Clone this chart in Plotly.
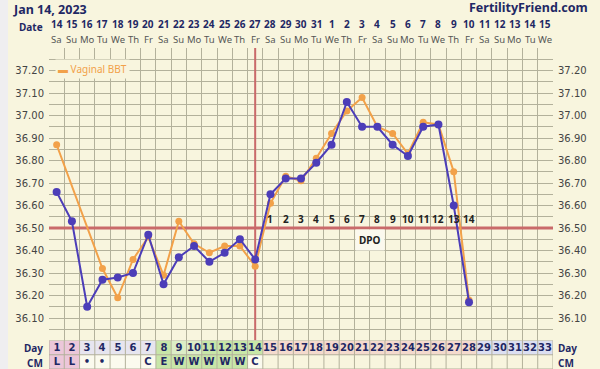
import plotly.graph_objects as go

# ---------------- data ----------------
days = list(range(1, 34))
dates = list(range(14, 32)) + list(range(1, 16))
weekdays = (["Sa", "Su", "Mo", "Tu", "We", "Th", "Fr"] * 5)[:33]

bbt_days = list(range(1, 29))
blue_bbt = [36.66, 36.53, 36.15, 36.27, 36.28, 36.30, 36.47, 36.25, 36.37, 36.42,
            36.35, 36.39, 36.45, 36.36, 36.65, 36.72, 36.72, 36.79, 36.87, 37.06,
            36.95, 36.95, 36.87, 36.82, 36.95, 36.96, 36.60, 36.17]
orange_bbt = [36.87, None, None, 36.32, 36.19, 36.36, 36.46, 36.29, 36.53, 36.43,
              36.39, 36.42, 36.42, 36.33, 36.61, 36.73, 36.71, 36.81, 36.92, 37.02,
              37.08, 36.95, 36.92, 36.83, 36.97, 36.96, 36.75, 36.18]

coverline = 36.50
ovulation_day = 14
dpo_days = list(range(15, 29))
dpo_labels = [str(i) for i in range(1, 15)]

cm_codes = ["L", "L", "•", "•", "", "", "C", "E", "W", "W", "W", "W", "W", "C"] + [""] * 19
day_row_cat = (["menses"] * 2 + ["pre"] * 5 + ["fertile"] + ["fertile_lt"] * 2 +
               ["fertile"] * 4 + ["luteal"] * 14 + ["future"] * 5)
cm_row_cat = (["menses"] * 2 + ["white"] * 5 + ["fertile"] * 6 + ["white"] + ["blank"] * 19)

ytick_vals = [round(36.1 + 0.1 * i, 2) for i in range(12)]

# ---------------- style ----------------
BG = "#f8f5de"
GRID = "#b3b19b"
NAVY = "#1f2864"
BLUE = "#4c3db8"
ORANGE = "#f2a149"
RED = "#c96a6a"
FONT = "DejaVu Sans"
NFONT = "Noto Sans"

cat_colors = {
    "menses": "#ecc7d9",
    "pre": "#e7e5ef",
    "fertile": "#c8e6a8",
    "fertile_lt": "#dcedc6",
    "luteal": "#f4dacd",
    "future": "#dcdff1",
    "white": "#fbfaee",
    "blank": BG,
}
cat_names = list(cat_colors.keys())
n = len(cat_names)
colorscale = []
for i, c in enumerate(cat_names):
    colorscale.append([i / n, cat_colors[c]])
    colorscale.append([(i + 1) / n, cat_colors[c]])

z = [[cat_names.index(c) + 0.5 for c in day_row_cat],
     [cat_names.index(c) + 0.5 for c in cm_row_cat]]
text = [[str(d) for d in days], cm_codes]

W, H = 600, 369
ML, MR, MT, MB = 49, 47, 48, 0
PW = W - ML - MR
PH = H - MT - MB
grid_bottom_px = 340.5
split = (H - grid_bottom_px) / PH


def px_x(p):
    return (p - ML) / PW


def px_y(p):
    return (H - p) / PH


fig = go.Figure()

fig.add_trace(go.Scatter(
    x=bbt_days, y=orange_bbt, mode="lines+markers", connectgaps=True,
    line=dict(color=ORANGE, width=2), marker=dict(color=ORANGE, size=7),
    name="Vaginal BBT", showlegend=False, hoverinfo="skip",
    xaxis="x", yaxis="y"))
fig.add_trace(go.Scatter(
    x=bbt_days, y=blue_bbt, mode="lines+markers",
    line=dict(color=BLUE, width=2), marker=dict(color=BLUE, size=8),
    name="BBT", showlegend=False, hoverinfo="skip",
    xaxis="x", yaxis="y3"))

fig.add_trace(go.Heatmap(
    x=days, y=[0, 1], z=z, text=text, texttemplate="<b>%{text}</b>",
    textfont=dict(family=FONT, size=10, color=NAVY),
    colorscale=colorscale, zmin=0, zmax=n, showscale=False,
    hoverinfo="skip", xaxis="x2", yaxis="y2"))

shapes = []
shapes.append(dict(type="line", xref="x", yref="y", x0=0.5, x1=33.5,
                   y0=coverline, y1=coverline, line=dict(color=RED, width=3),
                   layer="between"))
shapes.append(dict(type="line", xref="x", yref="y", x0=ovulation_day, x1=ovulation_day,
                   y0=36.0, y1=37.3, line=dict(color=RED, width=2), layer="between"))
for i in range(34):
    shapes.append(dict(type="line", xref="x2", yref="y2", x0=0.5 + i, x1=0.5 + i,
                       y0=-0.5, y1=1.5, line=dict(color=GRID, width=1), layer="above"))
for yv in [-0.5, 0.5, 1.5]:
    shapes.append(dict(type="line", xref="x2", yref="y2", x0=0.5, x1=33.5,
                       y0=yv, y1=yv, line=dict(color=GRID, width=1), layer="above"))
shapes.append(dict(type="rect", xref="paper", yref="paper", x0=px_x(0), x1=px_x(8),
                   y0=px_y(369), y1=px_y(0), fillcolor="#efeef0", line=dict(width=0),
                   layer="below"))

ann = []
ann.append(dict(text="<b>Jan 14, 2023</b>", xref="paper", yref="paper",
                x=px_x(11), y=px_y(9.5), xanchor="left", yanchor="middle",
                showarrow=False, font=dict(family=NFONT, size=12.5, color=NAVY)))
ann.append(dict(text="<b>FertilityFriend.com</b>", xref="paper", yref="paper",
                x=px_x(590), y=px_y(7), xanchor="right", yanchor="middle",
                showarrow=False, font=dict(family=NFONT, size=12.5, color=NAVY)))
ann.append(dict(text="<b>Date</b>", xref="paper", yref="paper",
                x=px_x(45), y=px_y(27), xanchor="right", yanchor="middle",
                showarrow=False, font=dict(family=NFONT, size=10, color=NAVY)))
for d, dt, wd in zip(days, dates, weekdays):
    ann.append(dict(text="<b>%d</b>" % dt, xref="x", yref="paper", x=d, y=px_y(24.5),
                    xanchor="center", yanchor="middle", showarrow=False,
                    font=dict(family=NFONT, size=10, color=NAVY)))
    ann.append(dict(text=wd, xref="x", yref="paper", x=d, y=px_y(39),
                    xanchor="center", yanchor="middle", showarrow=False,
                    font=dict(family=NFONT, size=9.5, color="#555555")))
for lab, yp in [("Day", 348), ("CM", 363)]:
    ann.append(dict(text="<b>%s</b>" % lab, xref="paper", yref="paper", x=px_x(45),
                    y=px_y(yp), xanchor="right", yanchor="middle", showarrow=False,
                    font=dict(family=NFONT, size=10, color=NAVY)))
    ann.append(dict(text="<b>%s</b>" % lab, xref="paper", yref="paper", x=px_x(556),
                    y=px_y(yp), xanchor="left", yanchor="middle", showarrow=False,
                    font=dict(family=NFONT, size=10, color=NAVY)))
for d, lab in zip(dpo_days, dpo_labels):
    ann.append(dict(text="<b>%s</b>" % lab, xref="x", yref="y", x=d, y=36.54,
                    xanchor="center", yanchor="middle", showarrow=False,
                    font=dict(family=NFONT, size=10, color="#222222")))
ann.append(dict(text="<b>DPO</b>", xref="x", yref="y", x=21.5, y=36.447,
                xanchor="center", yanchor="middle", showarrow=False,
                bgcolor="#fbf9ee", borderpad=3,
                font=dict(family=NFONT, size=10, color="#222222")))
ann.append(dict(text="▬ Vaginal BBT", xref="paper", yref="paper",
                x=px_x(55), y=px_y(69.5), xanchor="left", yanchor="middle",
                showarrow=False, bgcolor=BG, borderpad=2,
                font=dict(family=NFONT, size=10, color=ORANGE)))

grid_x = [0.5 + i for i in range(34)]
grid_y = [round(36.0 + 0.05 * i, 2) for i in range(27)]

fig.update_layout(
    width=W, height=H,
    margin=dict(l=ML, r=MR, t=MT, b=MB),
    paper_bgcolor=BG, plot_bgcolor=BG,
    font=dict(family=FONT, size=10, color="#444444"),
    showlegend=False,
    xaxis=dict(domain=[0, 1], range=[0.5, 33.5], anchor="y", tickvals=grid_x,
               showticklabels=False, ticks="", showgrid=True, gridcolor=GRID,
               gridwidth=1, zeroline=False, showline=False),
    yaxis=dict(domain=[split, 1], range=[36.0, 37.3], tickvals=grid_y,
               ticktext=[("%.2f" % v) if (v in ytick_vals) else "" for v in grid_y],
               ticks="", showgrid=True, gridcolor=GRID, gridwidth=1, zeroline=False,
               tickfont=dict(family=FONT, size=10, color="#444444"), ticklabelstandoff=4),
    yaxis3=dict(overlaying="y", side="right", anchor="x", range=[36.0, 37.3],
                tickvals=ytick_vals, ticktext=["%.2f" % v for v in ytick_vals],
                ticks="", showgrid=False, zeroline=False,
                tickfont=dict(family=FONT, size=10, color="#444444"), ticklabelstandoff=4),
    xaxis2=dict(domain=[0, 1], range=[0.5, 33.5], anchor="y2", showticklabels=False,
                ticks="", showgrid=False, zeroline=False),
    yaxis2=dict(domain=[0, split], range=[1.5, -0.5], anchor="x2", showticklabels=False,
                ticks="", showgrid=False, zeroline=False),
    shapes=shapes,
    annotations=ann,
)

fig.write_html("out.html",
               config={"displayModeBar": False, "staticPlot": True},
               post_script="document.body.style.margin='0';document.body.style.padding='0';"
                           "document.body.style.overflow='hidden';")
